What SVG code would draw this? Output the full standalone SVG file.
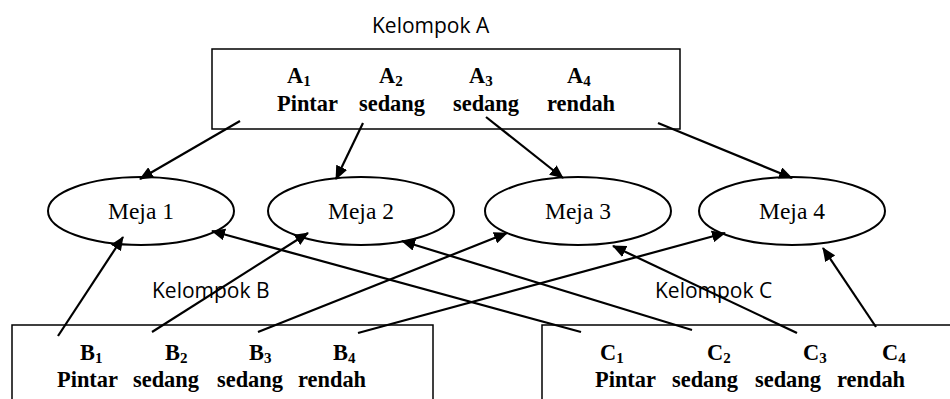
<svg xmlns="http://www.w3.org/2000/svg" width="950" height="399" viewBox="0 0 950 399">
<style>
.box{fill:#fff;stroke:#000;stroke-width:1.5}
.ell{fill:#fff;stroke:#000;stroke-width:2}
.grp{font-family:"Open Sans",sans-serif;font-size:21px;fill:#000}
.lbl{font-family:"Liberation Serif",serif;font-size:22.4px;font-weight:bold;fill:#000}
.sub{font-size:15px}
.meja{font-family:"Liberation Serif",serif;font-size:23.5px;fill:#000;text-anchor:middle}
.con{stroke:#000;stroke-width:2.2;fill:none;marker-end:url(#ah)}
</style>
<defs>
<marker id="ah" markerUnits="userSpaceOnUse" markerWidth="14" markerHeight="12" viewBox="0 0 14 12" refX="13" refY="6" orient="auto">
<path d="M0,0 L14,6 L0,12 z" fill="#000"/>
</marker>
</defs>
<rect width="950" height="399" fill="#fff"/>
<g id="kelompokA">
<text class="grp" x="372" y="33">Kelompok A</text>
<rect class="box" x="212" y="49" width="468" height="80"/>
<text class="lbl" x="287" y="83">A<tspan class="sub" dy="3">1</tspan></text>
<text class="lbl" x="379" y="83">A<tspan class="sub" dy="3">2</tspan></text>
<text class="lbl" x="469" y="83">A<tspan class="sub" dy="3">3</tspan></text>
<text class="lbl" x="567" y="83">A<tspan class="sub" dy="3">4</tspan></text>
<text class="lbl" x="277" y="111">Pintar</text>
<text class="lbl" x="359" y="111">sedang</text>
<text class="lbl" x="453" y="111">sedang</text>
<text class="lbl" x="547" y="111">rendah</text>
</g>
<g id="kelompokB">
<text class="grp" x="152" y="298">Kelompok B</text>
<rect class="box" x="12" y="325" width="421" height="90"/>
<text class="lbl" x="80" y="360">B<tspan class="sub" dy="3">1</tspan></text>
<text class="lbl" x="165" y="360">B<tspan class="sub" dy="3">2</tspan></text>
<text class="lbl" x="249" y="360">B<tspan class="sub" dy="3">3</tspan></text>
<text class="lbl" x="333" y="360">B<tspan class="sub" dy="3">4</tspan></text>
<text class="lbl" x="57" y="387">Pintar</text>
<text class="lbl" x="133" y="387">sedang</text>
<text class="lbl" x="217" y="387">sedang</text>
<text class="lbl" x="298" y="387">rendah</text>
</g>
<g id="kelompokC">
<text class="grp" x="655" y="298">Kelompok C</text>
<rect class="box" x="542" y="325" width="420" height="90"/>
<text class="lbl" x="600" y="360">C<tspan class="sub" dy="3">1</tspan></text>
<text class="lbl" x="707" y="360">C<tspan class="sub" dy="3">2</tspan></text>
<text class="lbl" x="803" y="360">C<tspan class="sub" dy="3">3</tspan></text>
<text class="lbl" x="882" y="360">C<tspan class="sub" dy="3">4</tspan></text>
<text class="lbl" x="595" y="387">Pintar</text>
<text class="lbl" x="672" y="387">sedang</text>
<text class="lbl" x="755" y="387">sedang</text>
<text class="lbl" x="837" y="387">rendah</text>
</g>
<g id="meja1"><ellipse class="ell" cx="141" cy="211" rx="93" ry="34"/><text class="meja" x="141" y="219">Meja 1</text></g>
<g id="meja2"><ellipse class="ell" cx="361" cy="211" rx="93" ry="34"/><text class="meja" x="361" y="219">Meja 2</text></g>
<g id="meja3"><ellipse class="ell" cx="578" cy="211" rx="93" ry="34"/><text class="meja" x="578" y="219">Meja 3</text></g>
<g id="meja4"><ellipse class="ell" cx="792" cy="211" rx="93" ry="34"/><text class="meja" x="792" y="219">Meja 4</text></g>
<g id="connectors">
<line class="con" x1="240" y1="121" x2="140" y2="179"/>
<line class="con" x1="363" y1="123" x2="336" y2="179"/>
<line class="con" x1="486" y1="117" x2="563" y2="178"/>
<line class="con" x1="658" y1="123" x2="792" y2="178"/>
<line class="con" x1="58" y1="336" x2="123" y2="237"/>
<line class="con" x1="152" y1="332" x2="308" y2="233"/>
<line class="con" x1="258" y1="332" x2="507" y2="233"/>
<line class="con" x1="358" y1="333" x2="725" y2="233"/>
<line class="con" x1="581" y1="332" x2="212" y2="231"/>
<line class="con" x1="692" y1="330" x2="402" y2="241"/>
<line class="con" x1="797" y1="333" x2="613" y2="246"/>
<line class="con" x1="876" y1="327" x2="823" y2="248"/>
</g>
</svg>
